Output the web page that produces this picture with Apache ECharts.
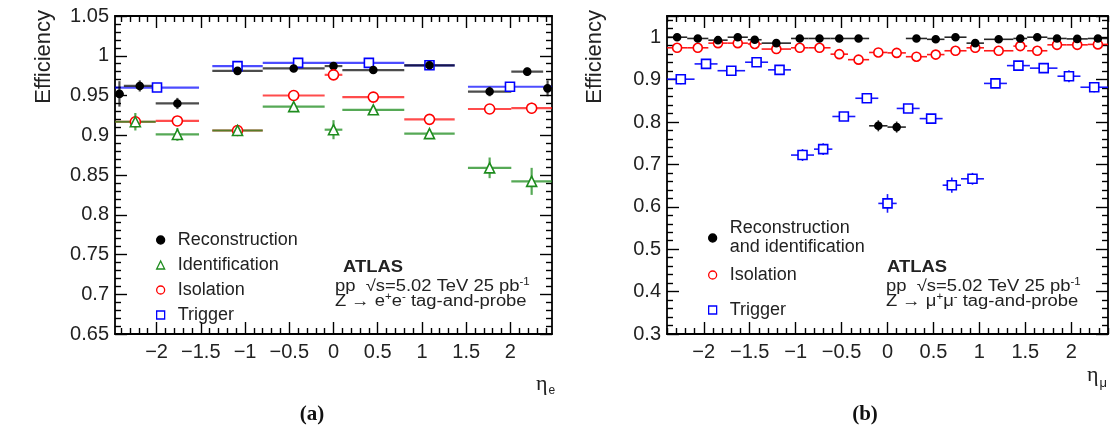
<!DOCTYPE html>
<html lang="en">
<head>
<meta charset="UTF-8">
<title>Lepton efficiencies</title>
<script src="https://cdn.jsdelivr.net/npm/echarts@6/dist/echarts.min.js"></script>
<style>
  html, body { margin: 0; padding: 0; background: #fff; }
  #chart { width: 1117px; height: 439px; }
</style>
</head>
<body>
<div id="chart"></div>
<script>
const FONT = '"Liberation Sans", Arial, Helvetica, sans-serif';
const xTickLabels = [-2, -1.5, -1, -0.5, 0, 0.5, 1, 1.5, 2];

// ---- (a) electrons ----
const eRecoLo  = [-2.47, -2.37, -2.01, -1.37, -0.8, -0.1, 0.1, 0.8, 1.52, 2.01, 2.37];
const eRecoHi  = [-2.37, -2.01, -1.52, -0.8, -0.1, 0.1, 0.8, 1.37, 2.01, 2.37, 2.47];
const eRecoEff = [0.952, 0.962, 0.940, 0.981, 0.984, 0.987, 0.982, 0.988, 0.955, 0.980, 0.959];
const eRecoErr = [0.016, 0.007, 0.007, 0.002, 0.002, 0.003, 0.002, 0.002, 0.006, 0.005, 0.010];

const eIdLo  = [-2.47, -2.01, -1.37, -0.8, -0.1, 0.1, 0.8, 1.52, 2.01];
const eIdHi  = [-2.01, -1.52, -0.8, -0.1, 0.1, 0.8, 1.37, 2.01, 2.47];
const eIdEff = [0.917, 0.901, 0.906, 0.936, 0.907, 0.932, 0.902, 0.859, 0.842];
const eIdErr = [0.011, 0.008, 0.004, 0.004, 0.012, 0.004, 0.005, 0.013, 0.017];

const eIsoEff = [0.917, 0.918, 0.906, 0.950, 0.976, 0.948, 0.920, 0.933, 0.934];
const eIsoErr = [0.005, 0.005, 0.002, 0.002, 0.004, 0.002, 0.003, 0.006, 0.007];

const eTrigLo  = [-2.47, -1.37, -0.8, 0, 0.8, 1.52];
const eTrigHi  = [-1.52, -0.8, 0, 0.8, 1.37, 2.47];
const eTrigEff = [0.960, 0.987, 0.991, 0.991, 0.988, 0.961];
const eTrigErr = [0.002, 0.002, 0.001, 0.001, 0.002, 0.002];

// ---- (b) muons ----
const mLo  = [-2.4, -2.18, -1.95, -1.74, -1.52, -1.37, -1.05, -0.86, -0.62, -0.43, -0.2,
              0, 0.2, 0.43, 0.62, 0.86, 1.05, 1.37, 1.52, 1.74, 1.95, 2.18];
const mHi  = [-2.18, -1.95, -1.74, -1.52, -1.37, -1.05, -0.86, -0.62, -0.43, -0.2, 0,
              0.2, 0.43, 0.62, 0.86, 1.05, 1.37, 1.52, 1.74, 1.95, 2.18, 2.4];
const mRecoEff = [1.0, 0.997, 0.993, 1.0, 0.994, 0.986, 0.997, 0.997, 0.997, 0.997, 0.791,
                  0.788, 0.997, 0.995, 1.0, 0.986, 0.995, 0.997, 1.0, 0.997, 0.996, 0.997];
const mRecoErr = [0.003, 0.003, 0.003, 0.003, 0.003, 0.003, 0.002, 0.002, 0.002, 0.002, 0.013,
                  0.013, 0.002, 0.002, 0.002, 0.004, 0.002, 0.003, 0.003, 0.003, 0.003, 0.003];
const mIsoEff = [0.975, 0.975, 0.986, 0.986, 0.984, 0.972, 0.975, 0.975, 0.960, 0.947, 0.964,
                 0.963, 0.954, 0.959, 0.968, 0.975, 0.968, 0.979, 0.968, 0.982, 0.982, 0.983];
const mIsoErr = [0.003, 0.003, 0.003, 0.003, 0.003, 0.003, 0.002, 0.002, 0.002, 0.002, 0.003,
                 0.003, 0.002, 0.002, 0.002, 0.002, 0.002, 0.003, 0.003, 0.003, 0.003, 0.003];

const mTrigLo  = [-2.4, -2.1, -1.85, -1.55, -1.3, -1.05, -0.8, -0.6, -0.35, -0.1,
                  0.1, 0.35, 0.6, 0.8, 1.05, 1.3, 1.55, 1.85, 2.1];
const mTrigHi  = [-2.1, -1.85, -1.55, -1.3, -1.05, -0.8, -0.6, -0.35, -0.1, 0.1,
                  0.35, 0.6, 0.8, 1.05, 1.3, 1.55, 1.85, 2.1, 2.4];
const mTrigEff = [0.901, 0.937, 0.921, 0.941, 0.923, 0.722, 0.736, 0.813, 0.856, 0.608,
                  0.832, 0.808, 0.651, 0.666, 0.891, 0.933, 0.927, 0.908, 0.882];
const mTrigErr = [0.012, 0.008, 0.007, 0.007, 0.007, 0.014, 0.014, 0.010, 0.009, 0.022,
                  0.010, 0.010, 0.018, 0.014, 0.008, 0.007, 0.007, 0.014, 0.012];

// minor x ticks every 0.1
const xMinor = [];
for (let k = -24; k <= 24; k++) if (k % 5 !== 0) xMinor.push(k / 10);

const tickLine = { color: '#000', width: 1.4 };

function fmtX(v) {
  return String(v).replace('-', '\u2212');
}

function xAxes(g, min, max) {
  const base = { type: 'value', gridIndex: g, min: min, max: max, splitLine: { show: false } };
  const major = { inside: true, length: 12, customValues: xTickLabels, lineStyle: tickLine };
  const minor = { inside: true, length: 6, customValues: xMinor, lineStyle: tickLine };
  return [
    Object.assign({}, base, {
      position: 'bottom',
      axisLine: { show: true, onZero: false, lineStyle: { color: '#000', width: 1.8 } },
      axisTick: major,
      axisLabel: { customValues: xTickLabels, margin: 8, formatter: fmtX,
                   fontSize: 20, color: '#222', fontFamily: FONT }
    }),
    Object.assign({}, base, { position: 'bottom', axisLine: { show: false, onZero: false },
      axisTick: minor, axisLabel: { show: false } }),
    Object.assign({}, base, { position: 'top',
      axisLine: { show: true, onZero: false, lineStyle: { color: '#000', width: 1.8 } },
      axisTick: major, axisLabel: { show: false } }),
    Object.assign({}, base, { position: 'top', axisLine: { show: false, onZero: false },
      axisTick: minor, axisLabel: { show: false } })
  ];
}

function yAxes(g, min, max, interval, showMax) {
  const base = {
    type: 'value', gridIndex: g, min: min, max: max, interval: interval,
    axisLine: { show: true, onZero: false, lineStyle: { color: '#000', width: 1.8 } },
    axisTick: { inside: true, length: 12, lineStyle: tickLine },
    minorTick: { show: true, splitNumber: 5, length: 6, lineStyle: tickLine },
    splitLine: { show: false }, minorSplitLine: { show: false }
  };
  return [
    Object.assign({}, base, { position: 'left',
      axisLabel: { margin: 6, fontSize: 20, color: '#222', fontFamily: FONT, showMaxLabel: showMax } }),
    Object.assign({}, base, { position: 'right', axisLabel: { show: false } })
  ];
}

function binRenderer(color, width, opacity) {
  return function (params, api) {
    const lo = api.value(0), hi = api.value(1), v = api.value(2), err = api.value(3);
    const c = (lo + hi) / 2;
    const a = api.coord([lo, v]), b = api.coord([hi, v]);
    const t = api.coord([c, v + err]), d = api.coord([c, v - err]);
    const style = { stroke: color, lineWidth: width, opacity: opacity };
    return {
      type: 'group',
      children: [
        { type: 'line', shape: { x1: a[0], y1: a[1], x2: b[0], y2: b[1] }, style: style },
        { type: 'line', shape: { x1: t[0], y1: t[1], x2: d[0], y2: d[1] }, style: style }
      ]
    };
  };
}

function errSeries(name, lo, hi, eff, err, xi, yi, color, width, opacity) {
  return {
    type: 'custom', name: name + ' err', xAxisIndex: xi, yAxisIndex: yi, silent: true,
    renderItem: binRenderer(color, width, opacity),
    encode: { x: [0, 1], y: 2 },
    data: lo.map((l, i) => [l, hi[i], eff[i], err[i]]), z: 2
  };
}

function markerSeries(name, lo, hi, eff, xi, yi, symbol, size, fill, stroke) {
  return {
    type: 'scatter', name: name, xAxisIndex: xi, yAxisIndex: yi, silent: true,
    symbol: symbol, symbolSize: size,
    itemStyle: { color: fill, borderColor: stroke, borderWidth: 1.6, opacity: 1 },
    data: lo.map((l, i) => [(l + hi[i]) / 2, eff[i]]), z: 3
  };
}

const BLACK = '#000000', GREEN = '#1e8c1e', RED = '#ff0000', BLUE = '#0000ff';

const series = [
  // (a)
  errSeries('Trigger', eTrigLo, eTrigHi, eTrigEff, eTrigErr, 0, 0, BLUE, 2.2, 0.7),
  errSeries('Reconstruction', eRecoLo, eRecoHi, eRecoEff, eRecoErr, 0, 0, BLACK, 2.2, 0.7),
  errSeries('Isolation', eIdLo, eIdHi, eIsoEff, eIsoErr, 0, 0, RED, 2.2, 0.7),
  errSeries('Identification', eIdLo, eIdHi, eIdEff, eIdErr, 0, 0, GREEN, 2.2, 0.75),
  markerSeries('Trigger', eTrigLo, eTrigHi, eTrigEff, 0, 0, 'rect', 9, '#fff', BLUE),
  markerSeries('Reconstruction', eRecoLo, eRecoHi, eRecoEff, 0, 0, 'circle', 7, BLACK, BLACK),
  markerSeries('Isolation', eIdLo, eIdHi, eIsoEff, 0, 0, 'circle', 10, '#fff', RED),
  markerSeries('Identification', eIdLo, eIdHi, eIdEff, 0, 0, 'triangle', 10, '#fff', GREEN),
  // (b)
  errSeries('Trigger', mTrigLo, mTrigHi, mTrigEff, mTrigErr, 4, 2, BLUE, 1.6, 0.9),
  errSeries('Isolation', mLo, mHi, mIsoEff, mIsoErr, 4, 2, RED, 1.6, 0.9),
  errSeries('Reconstruction and identification', mLo, mHi, mRecoEff, mRecoErr, 4, 2, BLACK, 1.6, 0.85),
  markerSeries('Trigger', mTrigLo, mTrigHi, mTrigEff, 4, 2, 'rect', 9, '#fff', BLUE),
  markerSeries('Isolation', mLo, mHi, mIsoEff, 4, 2, 'circle', 9, '#fff', RED),
  markerSeries('Reconstruction and identification', mLo, mHi, mRecoEff, 4, 2, 'circle', 7, BLACK, BLACK)
];

const legendText = { fontFamily: FONT, fontSize: 18, color: '#222', lineHeight: 18, padding: [0, 0, 0, 8] };
const legendBase = { orient: 'vertical', itemWidth: 8, itemHeight: 8, itemGap: 7,
                     selectedMode: false, textStyle: legendText };
function legItem(name, icon, fill, stroke) {
  return { name: name, icon: icon, itemStyle: { color: fill, borderColor: stroke, borderWidth: 1.3 } };
}

// text in the plot is drawn a bit wide, as in the reference
const SX = 1.15;
function note(x, y, text, size, weight) {
  return { type: 'text', x: x, y: y, scaleX: SX,
    style: { text: text, fontFamily: FONT, fontWeight: weight || 'normal', fontSize: size, fill: '#222',
             verticalAlign: 'middle',
             rich: { sup: { fontFamily: FONT, fontSize: 10, fill: '#222', padding: [0, 0, 9, 0] } } } };
}

const option = {
  animation: false,
  backgroundColor: '#fff',
  grid: [
    { left: 115, top: 16, width: 437, height: 318, containLabel: false, outerBoundsMode: 'none' },
    { left: 667, top: 16, width: 441, height: 318, containLabel: false, outerBoundsMode: 'none' }
  ],
  xAxis: xAxes(0, -2.47, 2.47).concat(xAxes(1, -2.4, 2.4)),
  yAxis: yAxes(0, 0.65, 1.05, 0.05, true).concat(yAxes(1, 0.3, 1.05, 0.1, false)),
  legend: [
    Object.assign({}, legendBase, { left: 151, top: 226, data: [
      legItem('Reconstruction', 'circle', BLACK, BLACK),
      legItem('Identification', 'triangle', '#fff', GREEN),
      legItem('Isolation', 'circle', '#fff', RED),
      legItem('Trigger', 'rect', '#fff', BLUE)
    ] }),
    Object.assign({}, legendBase, { left: 703, top: 214,
      textStyle: Object.assign({}, legendText, { lineHeight: 19 }),
      formatter: () => 'Reconstruction\nand identification',
      data: [legItem('Reconstruction and identification', 'circle', BLACK, BLACK)] }),
    Object.assign({}, legendBase, { left: 703, top: 261,
      data: [legItem('Isolation', 'circle', '#fff', RED)] }),
    Object.assign({}, legendBase, { left: 703, top: 296,
      data: [legItem('Trigger', 'rect', '#fff', BLUE)] })
  ],
  graphic: [
    { type: 'text', x: 44, y: 10, rotation: Math.PI / 2,
      style: { text: 'Efficiency', fontFamily: FONT, fontSize: 22, fill: '#222', align: 'right', verticalAlign: 'middle' } },
    { type: 'text', x: 595, y: 10, rotation: Math.PI / 2,
      style: { text: 'Efficiency', fontFamily: FONT, fontSize: 22, fill: '#222', align: 'right', verticalAlign: 'middle' } },
    { type: 'text', x: 536, y: 384,
      style: { text: '{g|\u03b7}{s|e}', verticalAlign: 'middle', fill: '#222',
        rich: { g: { fontFamily: '"Liberation Serif", serif', fontSize: 22, fill: '#222', lineHeight: 22 },
                s: { fontFamily: FONT, fontSize: 12, fill: '#222', padding: [14, 0, 0, 1] } } } },
    { type: 'text', x: 1087, y: 375,
      style: { text: '{g|\u03b7}{s|\u03bc}', verticalAlign: 'middle', fill: '#222',
        rich: { g: { fontFamily: '"Liberation Serif", serif', fontSize: 22, fill: '#222', lineHeight: 22 },
                s: { fontFamily: FONT, fontSize: 13, fill: '#222', padding: [16, 0, 0, 1] } } } },
    { type: 'text', x: 312, y: 415,
      style: { text: '(a)', fontFamily: '"Liberation Serif", serif', fontWeight: 'bold', fontSize: 21,
               fill: '#111', align: 'center', verticalAlign: 'middle' } },
    { type: 'text', x: 865, y: 415,
      style: { text: '(b)', fontFamily: '"Liberation Serif", serif', fontWeight: 'bold', fontSize: 21,
               fill: '#111', align: 'center', verticalAlign: 'middle' } },
    // ATLAS labels
    note(343, 268, 'ATLAS', 16, 'bold'),
    note(335, 287, 'pp  \u221as=5.02 TeV 25 pb{sup|-1}', 16),
    note(335, 302, 'Z \u2192 e{sup|+}e{sup|-} tag-and-probe', 16),
    note(887, 268, 'ATLAS', 16, 'bold'),
    note(886, 287, 'pp  \u221as=5.02 TeV 25 pb{sup|-1}', 16),
    note(886, 302, 'Z \u2192 \u03bc{sup|+}\u03bc{sup|-} tag-and-probe', 16)
  ],
  series: series
};

const chart = echarts.init(document.getElementById('chart'), null, { renderer: 'canvas' });
chart.setOption(option);
window.onresize = function () { chart.resize(); };
</script>
</body>
</html>
